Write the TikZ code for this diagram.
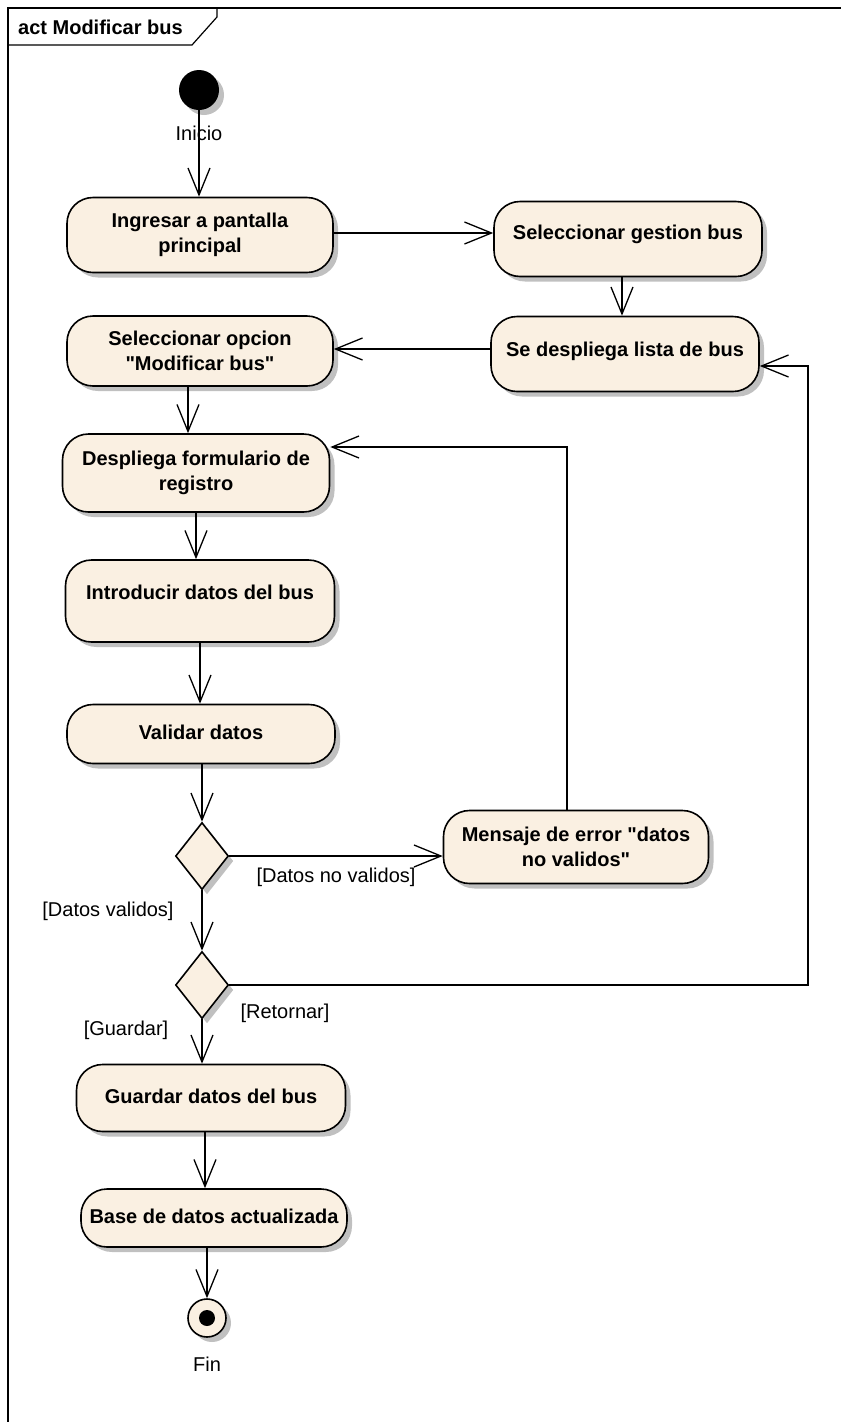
\documentclass[tikz,border=0pt]{standalone}
\usepackage{fontspec}
\setmainfont{Liberation Sans}[Ligatures=TeXOff]
\usepackage{tikz}
\usetikzlibrary{positioning,shapes.geometric,arrows.meta,shadows}

\definecolor{actfill}{RGB}{250,240,226}
\definecolor{shadegray}{RGB}{192,192,192}

\begin{document}
\begin{tikzpicture}[x=1pt, y=-1pt, font=\fontsize{20}{25}\selectfont]
\tikzset{
    shade/.style={drop shadow={shadow xshift=5pt, shadow yshift=-5pt, fill=shadegray, opacity=1}},
    action/.style={rectangle, rounded corners=26pt, draw, line width=1.6pt, fill=actfill, align=center, font=\fontsize{20}{25}\selectfont\bfseries, inner sep=2pt, shade},
    oneline/.style={text height=14pt, text depth=4pt},
    decision/.style={diamond, draw, line width=1.6pt, fill=actfill, minimum width=53pt, minimum height=67pt, inner sep=0pt, shade},
    guard/.style={inner sep=0pt, anchor=center},
    flow/.style={line width=1.3pt, -{Straight Barb[length=27pt, width=22pt, line width=1.3pt]}}
}
\useasboundingbox (0,0) rectangle (841,1422);

% frame
\draw[line width=1.2pt] (8,1422) -- (8,8) -- (841,8);
\draw[line width=1.2pt] (8,8) -- (217,8) -- (217,17) -- (192,45) -- (8,45);
\node[anchor=west, inner sep=0pt, font=\fontsize{20}{25}\selectfont\bfseries] (title) at (18,27) {act Modificar bus};

% nodes
\node[circle, fill=black, minimum size=40pt, inner sep=0pt, shade] (inicio) at (199,90) {};
\node[guard] (inicioTxt) at (199,133) {Inicio};
\node[action, minimum width=266pt, minimum height=75pt] (ingresar) at (200,235) {Ingresar a pantalla\\principal};
\node[action, oneline, minimum width=268pt, minimum height=75pt, text depth=14pt] (gestion) at (628,239) {Seleccionar gestion bus};
\node[action, oneline, minimum width=268pt, minimum height=75pt, text depth=10pt] (lista) at (625,354) {Se despliega lista de bus};
\node[action, minimum width=266pt, minimum height=70pt] (opcion) at (200,351) {Seleccionar opcion\\"Modificar bus"};
\node[action, minimum width=267pt, minimum height=78pt] (formulario) at (196,473) {Despliega formulario de\\registro};
\node[action, oneline, minimum width=269pt, minimum height=82pt, text depth=18pt] (introducir) at (200,601) {Introducir datos del bus};
\node[action, oneline, minimum width=268pt, minimum height=59pt] (validar) at (201,734) {Validar datos};
\node[decision] (dec1) at (202,856) {};
\node[action, minimum width=265pt, minimum height=73pt] (error) at (576,847) {Mensaje de error "datos\\no validos"};
\node[decision] (dec2) at (202,985) {};
\node[action, oneline, minimum width=269pt, minimum height=67pt] (guardar) at (211,1098) {Guardar datos del bus};
\node[action, oneline, minimum width=266pt, minimum height=58pt] (base) at (214,1218) {Base de datos actualizada};
\node[circle, draw, line width=1.6pt, fill=actfill, minimum size=38pt, inner sep=0pt, shade] (fin) at (207,1318) {};
\node[circle, fill=black, minimum size=16pt, inner sep=0pt] (finDot) at (fin) {};
\node[guard] (finTxt) at (207,1364) {Fin};

% guards
\node[guard] (noValidos) at (336,877) {[Datos no validos]};
\node[guard] (validos) at (108,911) {[Datos validos]};
\node[guard] (retornar) at (285,1013) {[Retornar]};
\node[guard] (guardarTxt) at (126,1030) {[Guardar]};
\coordinate (ret) at (808,366);

% flows
\draw[flow] (inicio) -- (inicio |- ingresar.north);
\draw[flow] (ingresar.east) ++(0,-2) -- (gestion.west |- 0,233);
\draw[flow] ([xshift=-6pt]gestion.south) -- ([xshift=-3pt]lista.north);
\draw[flow] (lista.west |- 0,349) -- (opcion.east |- 0,349);
\draw[flow] ([xshift=-12pt]opcion.south) -- ([xshift=-8pt]formulario.north);
\draw[flow] (formulario.south) -- (formulario.south |- introducir.north);
\draw[flow] (introducir.south) -- (introducir.south |- validar.north);
\draw[flow] (validar.south -| dec1.north) -- (dec1.north);
\draw[flow] (dec1.east) -- (dec1.east -| error.west);
\draw[flow] ([xshift=-9pt]error.north) |- ([yshift=26pt]formulario.east);
\draw[flow] (dec1.south) -- (dec2.north);
\draw[flow] (dec2.east) -| (ret) -- ([yshift=-12pt]lista.east);
\draw[flow] (dec2.south) -- (dec2.south |- guardar.north);
\draw[flow] (guardar.south -| 205,0) -- (base.north -| 205,0);
\draw[flow] (base.south -| fin) -- (fin.north);
\end{tikzpicture}
\end{document}
